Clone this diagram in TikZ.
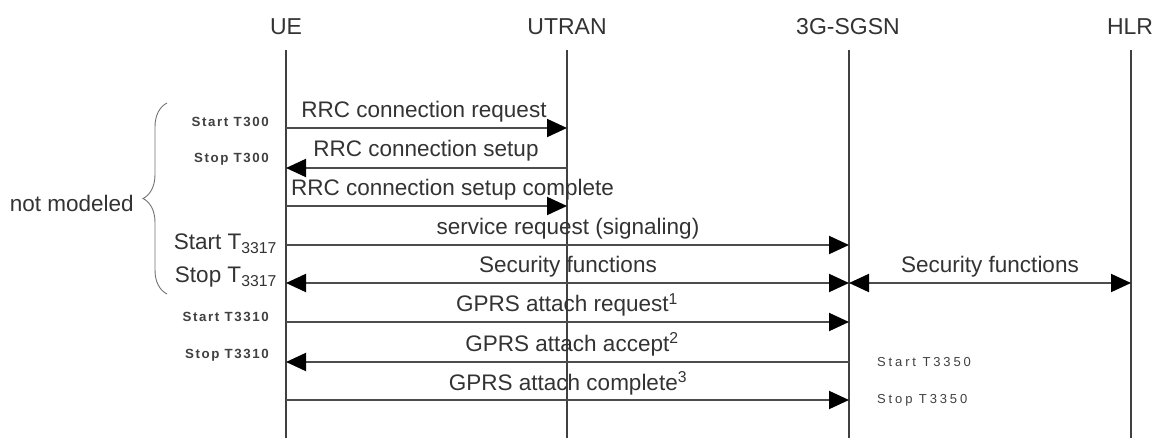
\documentclass[tikz,border=0pt]{standalone}
\usepackage{fontspec}
\setmainfont{Liberation Sans}
\newfontfamily\timfont[LetterSpace=12]{Liberation Sans}
\newfontfamily\timfontb[LetterSpace=22]{Liberation Sans}
\usetikzlibrary{arrows.meta,decorations.pathreplacing}
\begin{document}
\begin{tikzpicture}[x=1pt,y=-1pt,
  lab/.style={inner sep=0pt, font=\fontsize{22.5}{26}\selectfont, text=black!80},
  head/.style={inner sep=0pt, font=\fontsize{23}{26}\selectfont, text=black!80},
  tim/.style={inner sep=0pt, font=\timfont\bfseries\fontsize{13.3}{16}\selectfont, text=black!75},
  timr/.style={inner sep=0pt, font=\timfontb\fontsize{13}{16}\selectfont, text=black!75},
  life/.style={draw=black!75, line width=1.5pt},
  msg/.style={draw=black!70, line width=2pt, -{Triangle[length=20pt,width=18pt,color=black]}},
  dmsg/.style={draw=black!70, line width=2pt, {Triangle[length=20pt,width=18pt,color=black]}-{Triangle[length=20pt,width=18pt,color=black]}},
]
\useasboundingbox[fill=white] (0,0) rectangle (1159,438);

% lifeline heads
\node[head] (ue) at (286,27) {UE};
\node[head] (utran) at (567,27) {UTRAN};
\node[head] (sgsn) at (848,27) {3G-SGSN};
\node[head] (hlr) at (1130,27) {HLR};

\coordinate (ueT) at (286,50);   \coordinate (ueB) at (286,438);
\coordinate (utT) at (567,50);   \coordinate (utB) at (567,438);
\coordinate (sgT) at (849,50);   \coordinate (sgB) at (849,438);
\coordinate (hlT) at (1131,50);  \coordinate (hlB) at (1131,438);

\draw[life] (ueT) -- (ueB);
\draw[life] (utT) -- (utB);
\draw[life] (sgT) -- (sgB);
\draw[life] (hlT) -- (hlB);

% message rows
\coordinate (y1) at (0,128);
\coordinate (y2) at (0,168);
\coordinate (y3) at (0,206);
\coordinate (y4) at (0,245);
\coordinate (y5) at (0,283);
\coordinate (y6) at (0,322);
\coordinate (y7) at (0,362);
\coordinate (y8) at (0,400);

\draw[msg] (ueT |- y1) -- (utT |- y1);
\draw[msg] (utT |- y2) -- (ueT |- y2);
\draw[msg] (ueT |- y3) -- (utT |- y3);
\draw[msg] (ueT |- y4) -- (sgT |- y4);
\draw[dmsg] (ueT |- y5) -- (sgT |- y5);
\draw[dmsg] (sgT |- y5) -- (hlT |- y5);
\draw[msg] (ueT |- y6) -- (sgT |- y6);
\draw[msg] (sgT |- y7) -- (ueT |- y7);
\draw[msg] (ueT |- y8) -- (sgT |- y8);

% message labels
\node[lab, anchor=base] (l1) at (424,118) {RRC connection request};
\node[lab, anchor=base] (l2) at (426,157) {RRC connection setup};
\node[lab, anchor=base west] (l3) at (291,196) {RRC connection setup complete};
\node[lab, anchor=base] (l4) at (568,235) {service request (signaling)};
\node[lab, anchor=base] (l5) at (568,273) {Security functions};
\node[lab, anchor=base] (l5b) at (990,273) {Security functions};
\node[lab, anchor=base] (l6) at (567,312) {GPRS attach request\textsuperscript{1}};
\node[lab, anchor=base] (l7) at (572,351) {GPRS attach accept\textsuperscript{2}};
\node[lab, anchor=base] (l8) at (568,390) {GPRS attach complete\textsuperscript{3}};

% timer labels
\node[tim, anchor=east] (t1) at (269,122) {Start T300};
\node[tim, anchor=east] (t2) at (269,159) {Stop T300};
\node[lab, anchor=base east] (t3) at (277,250) {Start T\textsubscript{3317}};
\node[lab, anchor=base east] (t4) at (277,283) {Stop T\textsubscript{3317}};
\node[tim, anchor=east] (t5) at (269,317) {Start T3310};
\node[tim, anchor=east] (t6) at (269,355) {Stop T3310};
\node[timr, anchor=west] (t7) at (877,362) {Start T3350};
\node[timr, anchor=west] (t8) at (877,400) {Stop T3350};

% brace
\draw[draw=black!55, line width=0.9pt, decorate, decoration={brace, amplitude=24pt}]
  (167,294) -- (167,103);
\node[lab, anchor=east] (nm) at (134,203) {not modeled};
\end{tikzpicture}
\end{document}
